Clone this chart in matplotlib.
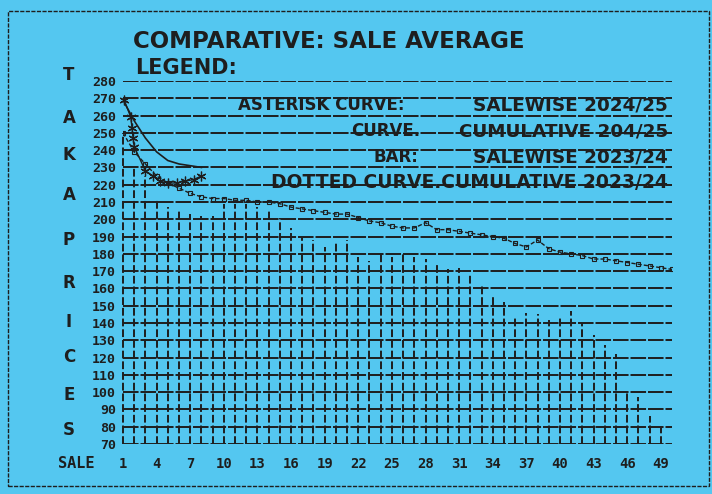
import matplotlib
matplotlib.use("Agg")
import matplotlib.pyplot as plt
from matplotlib.patches import Rectangle

# ---------------- data ----------------
sales = list(range(1, 50))
salewise_2324 = [250, 230, 225, 211, 207, 206, 203, 202, 202, 209,
                 209, 209, 207, 206, 201, 195, 189, 188, 184, 186,
                 188, 178, 176, 180, 178, 181, 178, 177, 174, 171,
                 172, 168, 162, 155, 152, 143, 146, 145, 142, 144,
                 147, 140, 133, 127, 122, 100, 97, 86, 79]

cum_sales_2324 = list(range(1, 51))
cumulative_2324 = [250, 239, 232, 225, 221, 218, 215, 213, 212, 212,
                   211, 211, 210, 210, 209, 207, 206, 205, 204, 203,
                   203, 201, 199, 198, 196, 195, 195, 198, 194, 194,
                   193, 192, 191, 190, 189, 186, 184, 188, 183, 181,
                   180, 179, 177, 177, 176, 175, 174, 173, 172, 171]

cum_sales_2425 = [1, 2, 3, 4, 5, 6, 7, 8]
cumulative_2425 = [269, 257, 247, 239, 234, 232, 231, 230]

salewise_pos_2425 = [1.1, 1.7, 1.8, 1.9, 2.0, 3.0, 3.7, 4.3, 5.0, 5.8, 6.5, 7.3, 8.0]
salewise_2425 = [269, 259, 253, 247, 242, 228, 225, 222, 221, 221, 222, 223, 225]

y_ticks = list(range(70, 281, 10))
x_ticks = list(range(1, 50, 3))

title = "COMPARATIVE: SALE AVERAGE"
legend_head = "LEGEND:"
legend_rows = [("ASTERISK CURVE:", "SALEWISE 2024/25"),
               ("CURVE.", "CUMULATIVE 204/25"),
               ("BAR:", "SALEWISE 2023/24")]
legend_last = "DOTTED CURVE.CUMULATIVE 2023/24"
ylabel_letters = list("TAKAPRICES")

# ---------------- style ----------------
BG = "#54c7f0"
INK = "#1e1e1e"
W, H = 712, 494
MONO = ["DejaVu Sans Mono", "DejaVu Sans"]
SANS = ["DejaVu Sans"]

fig = plt.figure(figsize=(W / 100, H / 100), dpi=100)
fig.patch.set_facecolor(BG)

def fx(x):
    return x / W

def fy(y):
    return 1 - y / H

ax = fig.add_axes([fx(123), fy(444), (672 - 123) / W, (444 - 81) / H])
ax.set_facecolor("none")
ax.set_xlim(1, 50)
ax.set_ylim(70, 280)

for v in y_ticks:
    ax.axhline(v, color=INK, lw=1.4, ls=(0, (8, 1)), zorder=1)

ax.vlines(sales, 70, salewise_2324, colors=INK, lw=1.4,
          linestyles=(0, (4, 1.5)), zorder=2, clip_on=False)

ax.plot(cum_sales_2324, cumulative_2324, color=INK, lw=1.0,
        ls=(0, (3, 1.5)), marker="s", ms=2.5, mfc="none", mew=0.8, zorder=3)
ax.plot(cum_sales_2425, cumulative_2425, color=INK, lw=1.2, zorder=3)
ax.plot(salewise_pos_2425, salewise_2425, color=INK, lw=1.0,
        marker=(6, 2, 0), ms=7, mew=0.9, zorder=4, clip_on=False)

ax.set_yticks(y_ticks)
ax.set_xticks(x_ticks)
ax.tick_params(length=0)
ax.tick_params(axis="y", pad=5)
ax.tick_params(axis="x", pad=9)
for lab in ax.get_yticklabels():
    lab.set_fontfamily(MONO)
    lab.set_fontweight("bold")
    lab.set_fontsize(9.5)
    lab.set_color(INK)
for lab in ax.get_xticklabels():
    lab.set_fontfamily(MONO)
    lab.set_fontweight("bold")
    lab.set_fontsize(10)
    lab.set_color(INK)
for s in ax.spines.values():
    s.set_visible(False)

# titles and legend text
fig.text(fx(133), fy(42), title, fontfamily=SANS, fontweight="bold",
         fontsize=16.5, color=INK, ha="left", va="center")
fig.text(fx(135), fy(68), legend_head, fontfamily=SANS, fontweight="bold",
         fontsize=15, color=INK, ha="left", va="center")

row_y = [105, 131, 157]
left_end = [405, 420, 418]
for (a, b), yy, le in zip(legend_rows, row_y, left_end):
    fig.text(fx(le), fy(yy), a, fontfamily=SANS, fontweight="bold", fontsize=12,
             color=INK, ha="right", va="center")
    fig.text(fx(668), fy(yy), b, fontfamily=SANS, fontweight="bold", fontsize=13.2,
             color=INK, ha="right", va="center")
fig.text(fx(668), fy(183), legend_last, fontfamily=SANS, fontweight="bold",
         fontsize=13.5, color=INK, ha="right", va="center")

# vertical axis label letters
letter_y = [75, 118, 155, 195, 240, 283, 322, 357, 395, 430]
for ch, yy in zip(ylabel_letters, letter_y):
    fig.text(fx(69), fy(yy), ch, fontfamily=SANS, fontweight="bold",
             fontsize=12, color=INK, ha="center", va="center")

fig.text(fx(76), fy(463), "SALE", fontfamily=MONO, fontweight="bold",
         fontsize=11, color=INK, ha="center", va="center")

# page frame
fig.add_artist(Rectangle((fx(8), fy(486)), (709 - 8) / W, (486 - 11) / H,
                         transform=fig.transFigure, fill=False,
                         edgecolor=INK, lw=1.0, ls=(0, (3, 1))))

fig.savefig("out.png", dpi=100, facecolor=BG)
